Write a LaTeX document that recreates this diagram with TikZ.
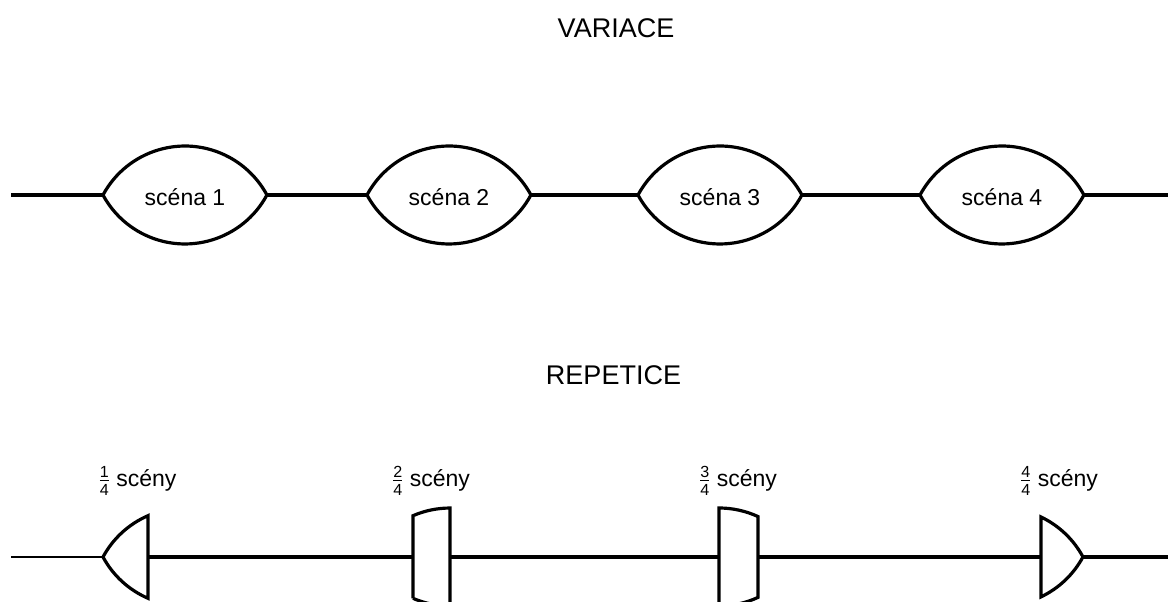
\documentclass[tikz,border=0pt]{standalone}
\usepackage{amsmath}
\usepackage{fontspec}
\setmainfont{Liberation Sans}
\usepackage{tikz}
\usetikzlibrary{positioning, arrows.meta}

\tikzset{
  wire/.style={line width=3.2pt, black},
  thinwire/.style={line width=2.2pt, black},
  lens/.style={minimum width=164pt, minimum height=98pt, inner sep=0pt, outer sep=0pt,
               text height=21pt, text depth=0pt, font=\fontsize{23}{27}\selectfont},
  part/.style={anchor=base, inner sep=0pt, font=\fontsize{23}{27}\selectfont},
  heading/.style={anchor=base, inner sep=0pt, font=\fontsize{27}{32}\selectfont},
}

\begin{document}
\begin{tikzpicture}[x=1pt, y=1pt]
  \useasboundingbox (0,0) rectangle (1168,602);
  \clip (0,0) rectangle (1168,602);

  % variace
  \node[heading] (var) at (616,564) {VARIACE};

  \node[lens] (s1) at (185,407) {scéna 1};
  \node[lens] (s2) at (449,407) {scéna 2};
  \node[lens] (s3) at (720,407) {scéna 3};
  \node[lens] (s4) at (1002,407) {scéna 4};
  \coordinate (vin) at (11,407);
  \coordinate (vout) at (1168,407);

  \draw[wire] (s1.west) arc[start angle=151.7, end angle=28.3, radius=93.1pt]
                        arc[start angle=-28.3, end angle=-151.7, radius=93.1pt];
  \draw[wire] (s2.west) arc[start angle=151.7, end angle=28.3, radius=93.1pt]
                        arc[start angle=-28.3, end angle=-151.7, radius=93.1pt];
  \draw[wire] (s3.west) arc[start angle=151.7, end angle=28.3, radius=93.1pt]
                        arc[start angle=-28.3, end angle=-151.7, radius=93.1pt];
  \draw[wire] (s4.west) arc[start angle=151.7, end angle=28.3, radius=93.1pt]
                        arc[start angle=-28.3, end angle=-151.7, radius=93.1pt];

  \draw[wire] (vin) -- (s1.west);
  \draw[wire] (s1.east) -- (s2.west);
  \draw[wire] (s2.east) -- (s3.west);
  \draw[wire] (s3.east) -- (s4.west);
  \draw[wire] (s4.east) -- (vout);

  % repetice
  \node[heading] (rep) at (613.5,217) {REPETICE};

  \coordinate (rin) at (11,45);
  \coordinate (r1) at (103,45);
  \coordinate (r1e) at (148,45);
  \coordinate (r2) at (413,45);
  \coordinate (r2e) at (450,45);
  \coordinate (r3) at (719,45);
  \coordinate (r3e) at (758,45);
  \coordinate (r4) at (1041,45);
  \coordinate (r4e) at (1083,45);
  \coordinate (rout) at (1168,45);

  \node[part] (f1) at (137.5,115) {$\frac{\text{1}}{\text{4}}$ scény};
  \node[part] (f2) at (431,115) {$\frac{\text{2}}{\text{4}}$ scény};
  \node[part] (f3) at (738,115) {$\frac{\text{3}}{\text{4}}$ scény};
  \node[part] (f4) at (1059,115) {$\frac{\text{4}}{\text{4}}$ scény};

  \draw[wire] (r1) arc[start angle=151.7, end angle=113.4, radius=93.1pt]
      -- ([yshift=-41.3pt]r1e) arc[start angle=-113.4, end angle=-151.7, radius=93.1pt];
  \draw[wire] ([yshift=-41.3pt]r2) -- ([yshift=41.3pt]r2)
      arc[start angle=113.4, end angle=90, radius=93.1pt]
      -- ([yshift=-49pt]r2e) arc[start angle=-90, end angle=-113.4, radius=93.1pt];
  \draw[wire] ([yshift=-49pt]r3) -- ([yshift=49pt]r3)
      arc[start angle=90, end angle=65.2, radius=93.1pt]
      -- ([yshift=-40.4pt]r3e) arc[start angle=-65.2, end angle=-90, radius=93.1pt];
  \draw[wire] ([yshift=40pt]r4) arc[start angle=64.55, end angle=28.3, radius=93.1pt]
      arc[start angle=-28.3, end angle=-64.55, radius=93.1pt] -- cycle;

  \draw[thinwire] (rin) -- (r1);
  \draw[wire] (r1e) -- (r2);
  \draw[wire] (r2e) -- (r3);
  \draw[wire] (r3e) -- (r4);
  \draw[wire] (r4e) -- (rout);
\end{tikzpicture}
\end{document}
